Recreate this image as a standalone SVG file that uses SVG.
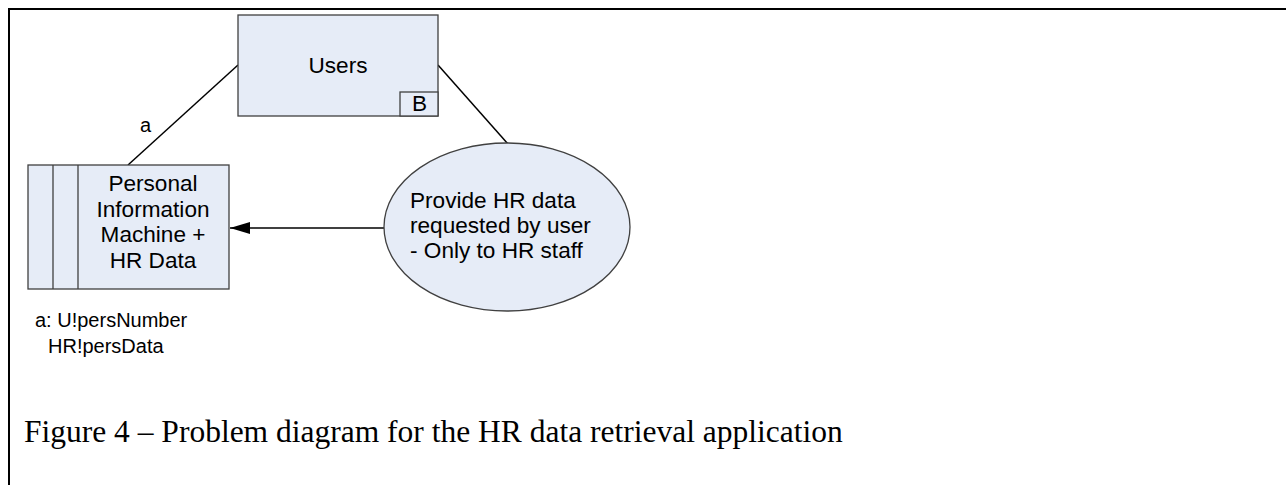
<svg xmlns="http://www.w3.org/2000/svg" width="1286" height="485" viewBox="0 0 1286 485">
<style>
.box{fill:#e6ecf7;stroke:#404040;stroke-width:1.3}
.ln{stroke:#000;stroke-width:1.5;fill:none}
.t{font-family:"Liberation Sans",Arial,sans-serif;font-size:22.6px;fill:#000}
.s{font-family:"Liberation Sans",Arial,sans-serif;font-size:20px;fill:#000}
.cap{font-family:"Liberation Serif","Times New Roman",serif;font-size:31.5px;fill:#000}
</style>
<defs>
<marker id="ah" markerWidth="20" markerHeight="12" refX="20" refY="6" orient="auto" markerUnits="userSpaceOnUse">
<path d="M0,0 L20,6 L0,12 Z" fill="#000"/>
</marker>
</defs>
<rect width="1286" height="485" fill="#fff"/>
<path d="M9,500 L9,9 L1290,9" fill="none" stroke="#000" stroke-width="2"/>
<g id="connectors">
<line class="ln" x1="238" y1="65" x2="128" y2="165"/>
<line class="ln" x1="438" y1="65" x2="508" y2="144"/>
<line class="ln" x1="384" y1="228" x2="230" y2="228" marker-end="url(#ah)"/>
<text class="s" x="140" y="132">a</text>
</g>
<g id="users">
<rect class="box" x="238" y="15" width="200" height="101"/>
<rect class="box" x="400" y="92" width="38" height="24"/>
<text class="t" x="338" y="73" text-anchor="middle">Users</text>
<text class="t" x="419.5" y="111" text-anchor="middle">B</text>
</g>
<g id="machine">
<rect class="box" x="28" y="165" width="201" height="124"/>
<line x1="53" y1="165" x2="53" y2="289" stroke="#404040" stroke-width="1.3"/>
<line x1="78" y1="165" x2="78" y2="289" stroke="#404040" stroke-width="1.3"/>
<text class="t" text-anchor="middle"><tspan x="153" y="191">Personal</tspan><tspan x="153" y="216.5">Information</tspan><tspan x="153" y="242">Machine +</tspan><tspan x="153" y="267.5">HR Data</tspan></text>
</g>
<g id="requirement">
<ellipse class="box" cx="507" cy="227" rx="123" ry="84"/>
<text class="t"><tspan x="410" y="208">Provide HR data</tspan><tspan x="410" y="233">requested by user</tspan><tspan x="410" y="258">- Only to HR staff</tspan></text>
</g>
<g id="legend">
<text class="s" x="35" y="327">a: U!persNumber</text>
<text class="s" x="48" y="353">HR!persData</text>
</g>
<text class="cap" x="24" y="442">Figure 4 – Problem diagram for the HR data retrieval application</text>
</svg>
